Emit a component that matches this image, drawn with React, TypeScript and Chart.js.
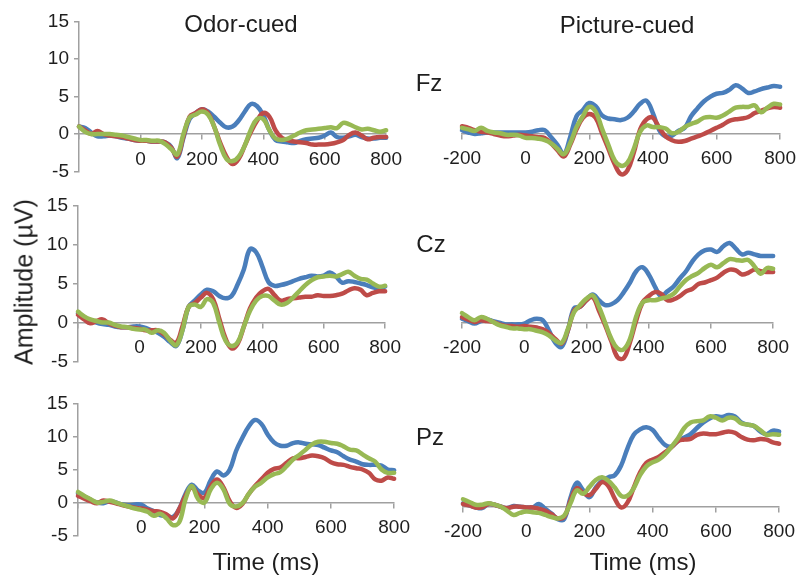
import React, { useEffect, useRef } from 'react';
import { Chart, registerables } from 'chart.js';
Chart.register(...registerables);

// ---- data ----
const timesMs = [
  -200, -180, -160, -140, -120, -100, -80, -60, -40, -20,
  0, 20, 40, 60, 80, 100, 120, 140, 160, 180,
  200, 220, 240, 260, 280, 300, 320, 340, 360, 380,
  400, 420, 440, 460, 480, 500, 520, 540, 560, 580,
  600, 620, 640, 660, 680, 700, 720, 740, 760, 780,
  800,
];
const xTicks = [-200, 0, 200, 400, 600, 800];
const yTicks = [-5, 0, 5, 10, 15];

// Fz, odor-cued
const fzOdorBlue = [
  1.0, 0.8, 0.2, -0.3, -0.3, -0.2, -0.3, -0.5, -0.6, -0.8,
  -0.9, -0.9, -1.0, -1.0, -1.1, -1.7, -3.2, -0.5, 2.0, 2.8,
  3.3, 3.0, 2.3, 1.5, 0.9, 1.0, 1.8, 3.0, 4.0, 3.7,
  2.5, 0.5, -0.8, -1.0, -1.1, -1.2, -0.9, -0.7, -0.6, -0.5,
  -0.2, 0.2, -0.4, -0.5, -0.3, -0.1, -0.4, -0.6, -0.6, -0.5,
  -0.5,
];
const fzOdorRed = [
  1.0, 0.5, 0.0, 0.4, 0.0, -0.2, -0.3, -0.4, -0.6, -0.8,
  -0.9, -0.9, -1.0, -1.0, -1.1, -1.8, -3.0, -0.3, 2.3, 2.8,
  3.3, 2.8, 1.0, -1.2, -3.0, -4.0, -3.3, -1.5, 0.3, 1.8,
  2.8, 2.3, 0.5, -0.5, -0.8, -1.0, -1.1, -1.2, -1.4, -1.4,
  -1.4, -1.3, -1.1, -0.8, -0.1, 0.2, -0.2, -0.7, -0.5, -0.4,
  -0.4,
];
const fzOdorGreen = [
  1.0, 0.3, 0.0, 0.0, 0.0, 0.0, -0.1, -0.2, -0.4, -0.6,
  -0.8, -0.8, -0.9, -0.9, -1.3, -2.0, -2.7, 0.0, 2.2, 2.6,
  3.0, 2.6, 1.0, -1.5, -3.3, -3.6, -3.0, -1.5, 0.6, 2.0,
  2.0, 0.5, -0.6, -0.8, -0.6, -0.2, 0.2, 0.5, 0.6, 0.7,
  0.8, 0.9, 0.8, 1.5, 1.3, 0.9, 0.6, 0.7, 0.5, 0.3,
  0.5,
];

// Fz, picture-cued
const fzPictureBlue = [
  0.4, 0.1, -0.1, 0.0, 0.1, 0.1, 0.1, 0.1, 0.1, 0.1,
  0.1, 0.2, 0.4, 0.4, -0.5, -1.5, -2.7, -0.5, 2.2, 3.0,
  3.9, 3.5, 2.3, 1.9, 1.8, 1.7, 2.0, 2.8, 3.8, 4.2,
  2.6, 0.4, -0.4, -0.3, 0.3, 0.7, 2.2, 3.2, 4.1, 4.7,
  5.1, 5.2, 5.6, 6.2, 5.8, 5.2, 5.4, 5.7, 5.9, 6.1,
  6.0,
];
const fzPictureRed = [
  0.9, 0.7, 0.4, 0.2, 0.1, -0.1, -0.3, -0.4, -0.3, -0.2,
  -0.3, -0.4, -0.5, -0.6, -1.3, -2.2, -3.0, -1.5, 0.5, 2.0,
  2.5, 2.0, 0.0, -2.0, -4.0, -5.3, -4.8, -2.5, 0.5, 1.8,
  2.0, 0.7, -0.4, -0.9, -1.1, -1.0, -0.7, -0.4, -0.1, 0.3,
  0.7, 1.1, 1.6, 1.8, 1.9, 2.1, 2.6, 2.9, 3.2, 3.4,
  3.3,
];
const fzPictureGreen = [
  0.7, 0.5, 0.3, 0.7, 0.3, 0.1, 0.0, -0.2, -0.2, -0.3,
  -0.6, -0.6, -0.7, -0.9, -1.3, -2.0, -2.7, -1.3, 0.8, 2.2,
  3.4, 2.8, 0.6, -1.5, -3.5, -4.2, -3.8, -2.0, 0.2, 1.0,
  0.8, 0.8, 0.6, 0.0, 0.2, 0.8, 1.2, 1.5, 2.0, 2.1,
  2.0, 2.3, 2.8, 3.3, 3.4, 3.4, 3.6, 2.7, 3.3, 3.8,
  3.7,
];

// Cz, odor-cued
const czOdorBlue = [
  1.2, 0.7, 0.3, 0.0, -0.2, -0.3, -0.5, -0.6, -0.6, -0.5,
  -0.5, -0.7, -1.0, -1.3, -1.8, -2.5, -3.0, -1.0, 2.0, 2.8,
  3.6, 4.2, 4.0, 3.4, 3.1, 3.4, 4.9, 6.8, 9.4, 9.0,
  7.2, 5.2, 4.7, 4.8, 5.0, 5.3, 5.6, 5.8, 6.0, 5.9,
  6.0, 6.4, 5.9, 5.1, 5.3, 5.2, 5.0, 4.8, 4.5, 4.4,
  4.6,
];
const czOdorRed = [
  1.0, 0.4, -0.1, 0.2, 0.4, -0.1, -0.4, -0.6, -0.6, -0.7,
  -0.8, -1.0, -1.0, -1.0, -1.5, -2.2, -2.6, -0.5, 2.0, 2.5,
  3.2, 3.8, 3.0, 0.5, -2.0, -3.3, -2.7, -0.5, 1.8, 3.2,
  4.0, 4.3, 3.5, 2.8, 3.0, 3.1, 3.2, 3.3, 3.3, 3.5,
  3.4, 3.4, 3.5, 3.7, 4.1, 4.4, 4.2, 3.5, 3.8, 4.0,
  4.0,
];
const czOdorGreen = [
  1.4, 0.8, 0.4, 0.2, 0.0, 0.0, -0.3, -0.5, -0.6, -0.8,
  -0.9, -0.9, -1.3, -1.0, -1.3, -2.3, -2.9, -1.0, 2.0, 2.3,
  2.0, 3.0, 2.5, 0.0, -2.3, -3.0, -2.5, -0.5, 1.5, 2.8,
  3.4, 3.4, 2.8, 2.3, 2.5, 3.2, 4.0, 4.8, 5.4, 5.8,
  5.9, 6.0, 5.9, 6.2, 6.5, 6.0, 5.6, 5.5, 5.0, 4.6,
  4.7,
];

// Cz, picture-cued
const czPictureBlue = [
  0.5, 0.2, -0.1, 0.2, 0.4, 0.2, 0.0, -0.2, -0.2, -0.2,
  -0.1, 0.3, 0.5, 0.3, -1.0, -2.5, -3.0, -1.0, 1.8, 2.0,
  2.8, 3.5, 2.8, 2.2, 2.3, 2.8, 3.8, 5.0, 6.4, 6.9,
  6.0, 4.5, 3.3, 3.9, 4.5, 5.5, 6.4, 7.6, 8.5, 9.0,
  9.1, 8.8, 9.5, 9.9, 9.2, 8.5, 8.7, 8.5, 8.3, 8.3,
  8.3,
];
const czPictureRed = [
  0.7, 0.4, 0.1, 0.3, 0.2, 0.1, -0.2, -0.4, -0.4, -0.5,
  -0.4, -0.5, -0.6, -0.8, -1.3, -2.0, -2.6, -1.0, 1.5, 2.0,
  2.8, 3.2, 1.5, -0.3, -2.3, -4.3, -4.4, -2.4, 0.3, 2.5,
  3.3, 3.8, 3.6, 2.8, 2.9, 3.3, 3.9, 4.2, 4.8, 5.0,
  5.3, 5.6, 6.2, 6.6, 6.5, 6.0, 6.2, 6.6, 6.4, 6.3,
  6.3,
];
const czPictureGreen = [
  1.2, 0.7, 0.3, 0.7, 0.5, 0.1, -0.3, -0.5, -0.7, -0.7,
  -0.8, -0.8, -1.0, -1.2, -1.6, -2.2, -2.5, -0.8, 1.3, 2.2,
  3.0, 3.4, 2.0, 0.0, -2.0, -3.2, -3.3, -2.0, 0.8, 2.5,
  2.8, 2.8, 3.0, 3.2, 3.6, 4.5, 5.3, 5.8, 6.2, 6.8,
  7.2, 6.9, 7.4, 7.9, 7.8, 7.7, 7.8, 7.0, 6.1, 6.8,
  6.7,
];

// Pz, odor-cued
const pzOdorBlue = [
  1.4, 0.9, 0.4, 0.0, -0.1, 0.2, 0.0, -0.3, -0.4, -0.3,
  -0.3, -0.9, -1.3, -1.9, -2.0, -2.2, -1.0, 1.3, 2.7, 1.8,
  1.5, 3.4, 4.7, 4.1, 5.0, 7.8, 9.8, 11.5, 12.5, 11.9,
  10.3, 9.1, 8.6, 8.6, 9.0, 9.1, 8.9, 8.8, 8.7, 8.3,
  7.9, 7.6, 7.0, 6.5, 6.2, 5.8, 5.7, 5.7, 5.6, 5.0,
  4.9,
];
const pzOdorRed = [
  1.0, 0.6, 0.2, -0.1, 0.3, 0.1, -0.1, -0.4, -0.6, -0.8,
  -0.9, -1.1, -1.3, -1.4, -1.8, -2.4, -1.0, 1.0, 2.3, 1.2,
  0.7, 2.5, 3.5, 2.3, 0.2, -0.8, -0.2, 1.3, 2.5, 3.5,
  4.5, 5.1, 5.3, 6.0, 6.7, 6.7, 6.9, 7.1, 7.0, 6.7,
  6.1, 5.8, 5.7, 5.4, 5.2, 5.0, 4.5, 3.5, 3.3, 3.8,
  3.6,
];
const pzOdorGreen = [
  1.6, 1.0, 0.5, 0.0, 0.1, 0.3, 0.0, -0.3, -0.6, -0.9,
  -1.1, -1.4, -2.0, -1.7, -2.4, -3.4, -3.0, 0.5, 2.5, 0.5,
  0.0, 2.0, 3.0, 2.0, -0.2, -0.6, -0.1, 1.3, 2.4, 3.0,
  3.8, 4.3, 4.6, 5.5, 6.5, 7.2, 8.0, 8.8, 9.2, 9.2,
  9.0, 8.9, 8.5, 8.0, 7.9, 7.3, 6.7, 6.2, 5.0, 4.5,
  4.5,
];

// Pz, picture-cued
const pzPictureBlue = [
  0.5, 0.2, -0.1, -0.2, 0.4, 0.3, 0.0, -0.2, 0.1, 0.0,
  -0.1, -0.1, 0.4, -0.3, -1.0, -1.8, -1.8, 1.3, 3.5, 2.4,
  1.4, 2.8, 3.8, 4.3, 4.6, 6.0, 8.5, 10.5, 11.3, 11.6,
  11.2, 10.0, 9.0, 8.8, 9.6, 10.1, 10.6, 11.5, 12.3, 12.9,
  13.2, 13.1, 13.4, 13.2, 12.3, 12.0, 11.8, 11.0, 10.6, 11.1,
  11.0,
];
const pzPictureRed = [
  0.4, 0.2, -0.1, -0.1, 0.4, 0.3, 0.0, -0.2, 0.0, 0.0,
  -0.1, -0.1, -0.3, -0.6, -1.1, -1.7, -1.5, 0.9, 2.7, 2.0,
  1.7, 2.6, 3.6, 3.0, 1.2, -0.1, 0.6, 2.8, 5.0, 6.4,
  6.9, 7.3, 8.0, 8.7, 9.6, 9.8, 9.9, 10.5, 10.7, 10.6,
  10.6, 10.8, 11.0, 10.8, 10.2, 9.8, 9.7, 9.9, 9.8, 9.4,
  9.2,
];
const pzPictureGreen = [
  1.1, 0.7, 0.3, 0.3, 0.5, 0.3, 0.0, -0.6, -1.2, -0.9,
  -0.7, -0.8, -0.9, -1.2, -1.5, -1.7, -1.3, 0.5, 2.4, 1.9,
  2.9, 3.9, 4.3, 3.8, 2.8, 1.6, 1.6, 2.7, 4.6, 5.9,
  6.5, 6.9, 7.7, 8.8, 10.0, 11.5, 12.3, 12.5, 12.6, 13.2,
  13.0, 12.6, 13.0, 12.9, 12.2, 12.0, 11.8, 11.2, 10.5, 10.6,
  10.5,
];

// ---- styles ----
const BLUE = '#4a7ebb';
const RED = '#be4b48';
const GREEN = '#98b954';
const AXIS = '#a0a0a0';
const TXT = '#1e1e1e';
const FONT = '"Liberation Sans", Arial, sans-serif';

type Area = { l: number; t: number; r: number; b: number };
type PanelSpec = {
  area: Area;
  yAxis: boolean;
  firstLabel: boolean;
  blue: number[];
  red: number[];
  green: number[];
};

const panels: PanelSpec[] = [
  { area: { l: 79, t: 19, r: 389, b: 174 }, yAxis: true, firstLabel: false, blue: fzOdorBlue, red: fzOdorRed, green: fzOdorGreen },
  { area: { l: 462, t: 17, r: 783, b: 172 }, yAxis: false, firstLabel: true, blue: fzPictureBlue, red: fzPictureRed, green: fzPictureGreen },
  { area: { l: 78, t: 203, r: 388, b: 364 }, yAxis: true, firstLabel: false, blue: czOdorBlue, red: czOdorRed, green: czOdorGreen },
  { area: { l: 462, t: 202, r: 776, b: 363 }, yAxis: false, firstLabel: true, blue: czPictureBlue, red: czPictureRed, green: czPictureGreen },
  { area: { l: 78, t: 401, r: 397, b: 538 }, yAxis: true, firstLabel: false, blue: pzOdorBlue, red: pzOdorRed, green: pzOdorGreen },
  { area: { l: 463, t: 404, r: 782, b: 541 }, yAxis: false, firstLabel: true, blue: pzPictureBlue, red: pzPictureRed, green: pzPictureGreen },
];

function Panel({ spec }: { spec: PanelSpec }) {
  const ref = useRef<HTMLCanvasElement>(null);
  const yW = spec.yAxis ? 50 : 0;
  const padL = spec.yAxis ? 0 : 44;
  const padT = 14;
  const padB = 14;
  const padR = 22;
  const left = spec.area.l - padL - yW;
  const top = spec.area.t - padT;
  const width = spec.area.r - left + padR;
  const height = spec.area.b - top + padB;

  useEffect(() => {
    if (!ref.current) return;
    const ds = (vals: number[], color: string, order: number) => ({
      data: vals.map((v, i) => ({ x: timesMs[i], y: v })),
      borderColor: color,
      backgroundColor: color,
      borderWidth: 4.5,
      pointRadius: 0,
      tension: 0.4,
      order,
      clip: false as any,
      fill: false,
      borderCapStyle: 'round' as const,
      borderJoinStyle: 'round' as const,
    });
    const chart = new Chart(ref.current, {
      type: 'line',
      data: {
        datasets: [ds(spec.blue, BLUE, 2), ds(spec.red, RED, 1), ds(spec.green, GREEN, 0)],
      },
      options: {
        animation: false,
        responsive: false,
        devicePixelRatio: 1,
        events: [],
        layout: { padding: { left: padL, right: padR, top: padT, bottom: padB } },
        plugins: { legend: { display: false }, tooltip: { enabled: false }, title: { display: false } },
        scales: {
          x: {
            type: 'linear',
            min: -200,
            max: 800,
            position: { y: 0 } as any,
            afterFit: (s: any) => { s.height = 0; },
            afterBuildTicks: (s: any) => { s.ticks = xTicks.map((v) => ({ value: v })); },
            border: { display: true, color: AXIS, width: 1.5 },
            grid: { display: true, drawOnChartArea: false, drawTicks: true, tickLength: 5, color: AXIS, lineWidth: 1.5 },
            ticks: {
              autoSkip: false,
              maxRotation: 0,
              minRotation: 0,
              padding: 9,
              color: TXT,
              font: { family: FONT, size: 19 },
              callback: (v: any) => (!spec.firstLabel && Number(v) === -200 ? '' : String(v)),
            },
          },
          y: {
            type: 'linear',
            display: spec.yAxis,
            position: 'left',
            min: -5,
            max: 15,
            afterFit: (s: any) => { if (spec.yAxis) s.width = yW; },
            afterBuildTicks: (s: any) => { s.ticks = yTicks.map((v) => ({ value: v })); },
            border: { display: true, color: AXIS, width: 1.5 },
            grid: { display: true, drawOnChartArea: false, drawTicks: true, tickLength: 5, color: AXIS, lineWidth: 1.5 },
            ticks: {
              padding: 5,
              color: TXT,
              font: { family: FONT, size: 19 },
              callback: (v: any) => String(v),
            },
          },
        },
      } as any,
    });
    return () => chart.destroy();
  }, []);

  return (
    <canvas
      ref={ref}
      width={width}
      height={height}
      style={{ position: 'absolute', left, top, width, height }}
    />
  );
}

const textStyle = (x: number, y: number, size: number): React.CSSProperties => ({
  position: 'absolute',
  left: x,
  top: y,
  transform: 'translate(-50%, -50%)',
  fontFamily: FONT,
  fontSize: size,
  lineHeight: 1,
  color: TXT,
  whiteSpace: 'nowrap',
});

export default function App() {
  return (
    <div style={{ position: 'absolute', left: 0, top: 0, width: 805, height: 576, background: '#fff', overflow: 'hidden' }}>
      {panels.map((p, i) => (
        <Panel key={i} spec={p} />
      ))}
      <div style={textStyle(241, 24, 24)}>Odor-cued</div>
      <div style={textStyle(627, 25, 24)}>Picture-cued</div>
      <div style={textStyle(429, 83, 24)}>Fz</div>
      <div style={textStyle(431, 244, 24)}>Cz</div>
      <div style={textStyle(430, 437, 24)}>Pz</div>
      <div style={textStyle(266, 562, 24)}>Time (ms)</div>
      <div style={textStyle(643, 562, 24)}>Time (ms)</div>
      <div style={{ ...textStyle(24, 282, 25), transform: 'translate(-50%, -50%) rotate(-90deg)' }}>Amplitude (µV)</div>
    </div>
  );
}
